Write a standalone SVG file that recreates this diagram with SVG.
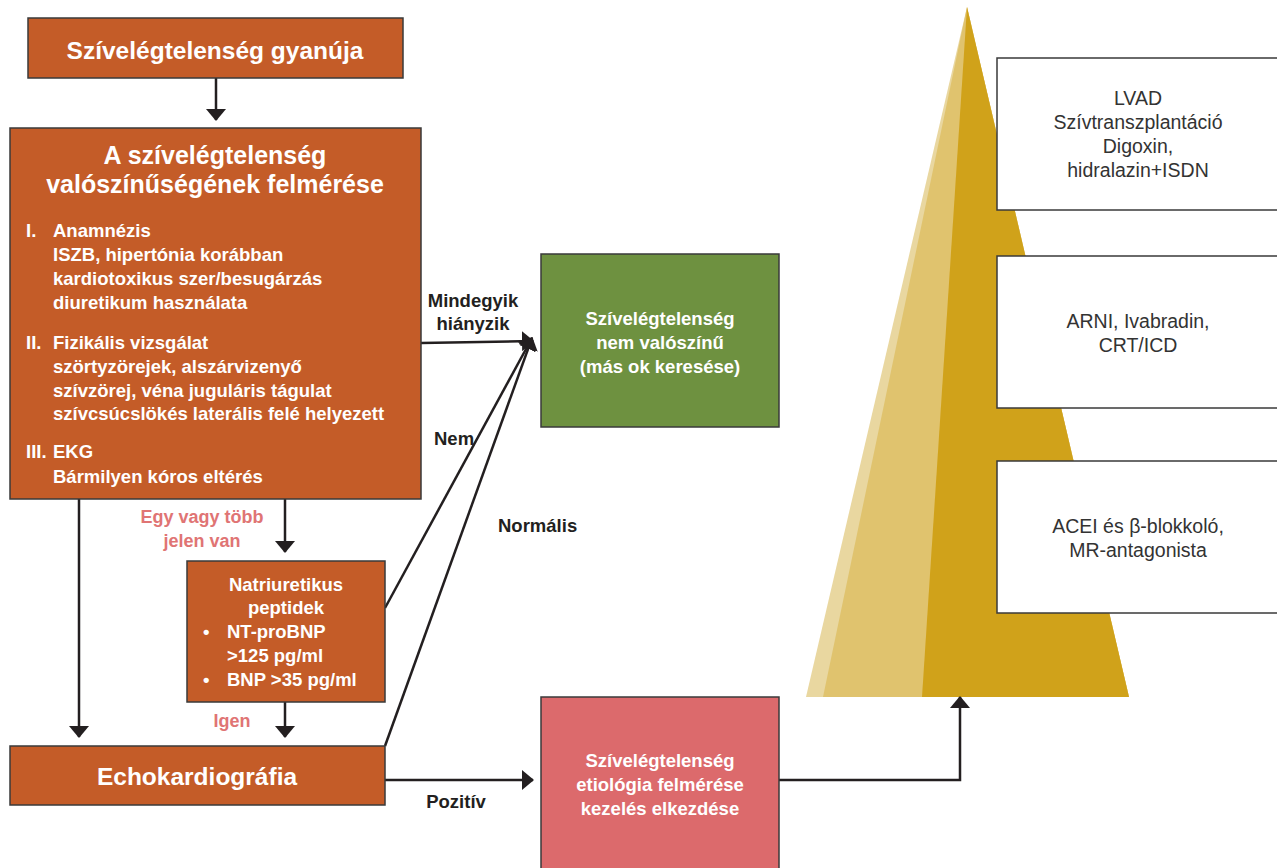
<svg xmlns="http://www.w3.org/2000/svg" width="1277" height="868" viewBox="0 0 1277 868">
<defs>
<marker id="ah" markerUnits="userSpaceOnUse" markerWidth="12" markerHeight="20" viewBox="0 0 12 20" refX="11" refY="10" orient="auto">
<path d="M0,0 L12,10 L0,20 z" fill="#231f20"/>
</marker>
<style>
.box{stroke:#3a3a3a;stroke-width:1.5}
.or{fill:#c45c28}
.gr{fill:#6e9140}
.pk{fill:#dc6a6c}
.wb{fill:#ffffff}
.con{stroke:#231f20;stroke-width:2.5;fill:none;marker-end:url(#ah)}
text{font-family:"Liberation Sans",Arial,sans-serif}
.tw{fill:#ffffff;font-weight:bold}
.td{fill:#231f20;font-weight:bold;font-size:18.5px}
.tp{fill:#e07474;font-weight:bold;font-size:18px}
.tr{fill:#333333;font-size:19.5px}
</style>
</defs>
<rect width="1277" height="868" fill="#ffffff"/>

<g id="pyramid">
<polygon points="967,7 806,697 1129,697" fill="#e9d7a0"/>
<polygon points="967,7 823,697 1129,697" fill="#e0c36e"/>
<polygon points="967,7 922,697 1129,697" fill="#d0a21a"/>
</g>

<g id="box-lvad">
<rect class="box wb" x="997" y="58" width="290" height="152"/>
<text class="tr" text-anchor="middle" x="1138" y="105">LVAD</text>
<text class="tr" text-anchor="middle" x="1138" y="129">Szívtranszplantáció</text>
<text class="tr" text-anchor="middle" x="1138" y="153">Digoxin,</text>
<text class="tr" text-anchor="middle" x="1138" y="177">hidralazin+ISDN</text>
</g>
<g id="box-arni">
<rect class="box wb" x="997" y="256" width="290" height="152"/>
<text class="tr" text-anchor="middle" x="1138" y="328">ARNI, Ivabradin,</text>
<text class="tr" text-anchor="middle" x="1138" y="352">CRT/ICD</text>
</g>
<g id="box-acei">
<rect class="box wb" x="997" y="461" width="290" height="152"/>
<text class="tr" text-anchor="middle" x="1138" y="533">ACEI és β-blokkoló,</text>
<text class="tr" text-anchor="middle" x="1138" y="557">MR-antagonista</text>
</g>

<g id="connectors">
<line class="con" x1="216" y1="78" x2="216" y2="120"/>
<line class="con" x1="79" y1="499" x2="79" y2="737"/>
<line class="con" x1="285" y1="499" x2="285" y2="552"/>
<line class="con" x1="285" y1="702" x2="285" y2="737"/>
<line class="con" x1="421" y1="343" x2="533" y2="341"/>
<line class="con" x1="385" y1="608" x2="532" y2="338"/>
<line class="con" x1="385" y1="746" x2="532" y2="338"/>
<line class="con" x1="385" y1="780" x2="533" y2="780"/>
<polyline class="con" points="779,780 960,780 960,697"/>
</g>

<g id="labels">
<text class="tp" text-anchor="middle" x="202" y="523">Egy vagy több</text>
<text class="tp" text-anchor="middle" x="202" y="547">jelen van</text>
<text class="tp" text-anchor="middle" x="232" y="727">Igen</text>
<text class="td" text-anchor="middle" x="473" y="307">Mindegyik</text>
<text class="td" text-anchor="middle" x="473" y="330">hiányzik</text>
<text class="td" x="434" y="445">Nem</text>
<text class="td" x="498" y="532">Normális</text>
<text class="td" text-anchor="middle" x="456" y="808">Pozitív</text>
</g>

<g id="node-gyanu">
<rect class="box or" x="28" y="18" width="375" height="60"/>
<text class="tw" text-anchor="middle" x="215" y="59" font-size="24.5">Szívelégtelenség gyanúja</text>
</g>

<g id="node-felmeres">
<rect class="box or" x="10" y="128" width="411" height="371"/>
<text class="tw" text-anchor="middle" x="215" y="164" font-size="25">A szívelégtelenség</text>
<text class="tw" text-anchor="middle" x="215" y="193" font-size="25">valószínűségének felmérése</text>
<g class="tw" font-size="18.5">
<text x="26" y="237">I.</text><text x="53" y="237">Anamnézis</text>
<text x="53" y="261">ISZB, hipertónia korábban</text>
<text x="53" y="285">kardiotoxikus szer/besugárzás</text>
<text x="53" y="309">diuretikum használata</text>
<text x="26" y="349">II.</text><text x="53" y="349">Fizikális vizsgálat</text>
<text x="53" y="373">szörtyzörejek, alszárvizenyő</text>
<text x="53" y="397">szívzörej, véna juguláris tágulat</text>
<text x="53" y="420">szívcsúcslökés laterális felé helyezett</text>
<text x="26" y="458">III.</text><text x="53" y="458">EKG</text>
<text x="53" y="483">Bármilyen kóros eltérés</text>
</g>
</g>

<g id="node-natriuretikus">
<rect class="box or" x="187" y="561" width="198" height="141"/>
<g class="tw" font-size="18.5">
<text text-anchor="middle" x="286" y="591">Natriuretikus</text>
<text text-anchor="middle" x="286" y="614">peptidek</text>
<text x="203" y="638">•</text><text x="227" y="638">NT-proBNP</text>
<text x="227" y="662">&gt;125 pg/ml</text>
<text x="203" y="686">•</text><text x="227" y="686">BNP &gt;35 pg/ml</text>
</g>
</g>

<g id="node-echo">
<rect class="box or" x="10" y="746" width="375" height="59"/>
<text class="tw" text-anchor="middle" x="197" y="785" font-size="24.5">Echokardiográfia</text>
</g>

<g id="node-nemvaloszinu">
<rect class="box gr" x="541" y="254" width="238" height="173"/>
<g class="tw" font-size="18.5">
<text text-anchor="middle" x="660" y="325">Szívelégtelenség</text>
<text text-anchor="middle" x="660" y="349">nem valószínű</text>
<text text-anchor="middle" x="660" y="373">(más ok keresése)</text>
</g>
</g>

<g id="node-etiologia">
<rect class="box pk" x="541" y="697" width="238" height="180"/>
<g class="tw" font-size="18.5">
<text text-anchor="middle" x="660" y="767">Szívelégtelenség</text>
<text text-anchor="middle" x="660" y="791">etiológia felmérése</text>
<text text-anchor="middle" x="660" y="815">kezelés elkezdése</text>
</g>
</g>
</svg>
